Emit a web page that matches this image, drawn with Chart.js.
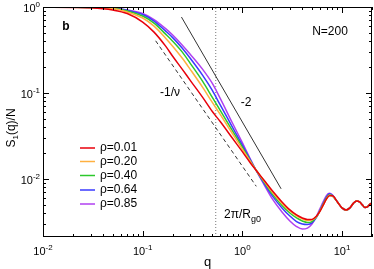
<!DOCTYPE html>
<html>
<head>
<meta charset="utf-8">
<script src="https://cdn.jsdelivr.net/npm/chart.js@4.4.1/dist/chart.umd.min.js"></script>
<style>
  html, body { margin: 0; padding: 0; background: #fff; }
  #chart { display: block; }
</style>
</head>
<body>
<canvas id="chart" width="374" height="269"></canvas>
<script>
'use strict'

// q grid shared by all curves
const qValues = [0.01, 0.02, 0.03, 0.05, 0.07, 0.1, 0.13, 0.17, 0.2, 0.25, 0.3, 0.4, 0.5, 0.6, 0.8, 1.0, 1.2, 1.4, 1.7, 2.0,
    2.5, 3.0, 3.5, 4.0, 4.5, 5.0, 5.5, 6.0, 6.5, 7.0, 7.5, 8, 9, 10, 11, 12, 13, 14, 15, 16, 17, 18, 19, 20]

const rho001 = [1.0, 0.989, 0.979, 0.922, 0.839, 0.668, 0.510, 0.350, 0.267, 0.188, 0.140, 0.0886, 0.0607, 0.0464, 0.0294, 0.0207, 0.0154, 0.01224, 0.00922, 0.00724,
    0.00538, 0.00434, 0.00379, 0.00350, 0.00336, 0.00336, 0.00364, 0.00417, 0.00497, 0.00583, 0.00633, 0.00633,
    0.00538, 0.00458, 0.00434, 0.00458, 0.00517, 0.00553, 0.00538, 0.00497, 0.00464, 0.00470, 0.00503, 0.00524]
const rho020 = [1.0, 0.9946, 0.984, 0.958, 0.874, 0.744, 0.599, 0.434, 0.350, 0.253, 0.188, 0.116, 0.0774, 0.0561, 0.0332, 0.0221, 0.0160, 0.01224, 0.00898, 0.00695,
    0.00517, 0.00422, 0.00369, 0.00341, 0.00327, 0.00332, 0.00359, 0.00417, 0.00497, 0.00583, 0.00641, 0.00633,
    0.00538, 0.00458, 0.00434, 0.00458, 0.00517, 0.00553, 0.00538, 0.00497, 0.00464, 0.00470, 0.00503, 0.00524]
const rho040 = [1.0, 0.9946, 0.987, 0.966, 0.898, 0.785, 0.650, 0.483, 0.400, 0.298, 0.221, 0.136, 0.0886, 0.0624, 0.0359, 0.0234, 0.0162, 0.01224, 0.00874, 0.00668,
    0.00490, 0.00400, 0.00350, 0.00323, 0.00310, 0.00318, 0.00355, 0.00422, 0.00510, 0.00599, 0.00650, 0.00633,
    0.00538, 0.00458, 0.00434, 0.00458, 0.00517, 0.00553, 0.00538, 0.00497, 0.00464, 0.00470, 0.00503, 0.00524]
const rho064 = [1.0, 0.9946, 0.989, 0.971, 0.915, 0.817, 0.686, 0.524, 0.440, 0.331, 0.253, 0.160, 0.107, 0.0724, 0.0395, 0.0246, 0.0167, 0.01208, 0.00839, 0.00633,
    0.00458, 0.00369, 0.00318, 0.00298, 0.00294, 0.00306, 0.00350, 0.00422, 0.00517, 0.00616, 0.00668, 0.00641,
    0.00538, 0.00458, 0.00434, 0.00458, 0.00517, 0.00553, 0.00538, 0.00497, 0.00464, 0.00470, 0.00503, 0.00524]
const rho085 = [1.0, 0.9946, 0.992, 0.973, 0.922, 0.839, 0.714, 0.560, 0.471, 0.359, 0.282, 0.188, 0.129, 0.0862, 0.0440, 0.0264, 0.0171, 0.01208, 0.00806, 0.00583,
    0.00411, 0.00323, 0.00278, 0.00260, 0.00267, 0.00298, 0.00359, 0.00446, 0.00545, 0.00641, 0.00677, 0.00650,
    0.00538, 0.00458, 0.00434, 0.00458, 0.00517, 0.00553, 0.00538, 0.00497, 0.00464, 0.00470, 0.00503, 0.00524]

const seriesLabels = ['ρ=0.01', 'ρ=0.20', 'ρ=0.40', 'ρ=0.64', 'ρ=0.85']
const seriesColors = ['#e8000b', '#ffb040', '#2cc82c', '#3a3aff', '#b040f0']

// guide lines
const slope2Q = [0.245, 2.45]
const slope2S = [0.764, 0.00764]
const slopeNuQ = [0.135, 1.38]
const slopeNuS = [0.404, 0.00817]
const rgQ = 0.541

const xMin = 0.01, xMax = 20
const yMin = 0.0021, yMax = 1

const xDecades = [-2, -1, 0, 1]
const yDecades = [-2, -1, 0]

const FONT = '"Liberation Sans", Arial, sans-serif'


document.addEventListener('DOMContentLoaded', () => {
    Draw()
})


function Points(xs, ys) {
    return xs.map((x, i) => ({ x: x, y: ys[i] }))
}

function Draw() {
    const allSeries = [rho001, rho020, rho040, rho064, rho085]

    const datasets = allSeries.map((s, i) => ({
        label: seriesLabels[i],
        data: Points(qValues, s),
        borderColor: seriesColors[i],
        borderWidth: 1.5,
        cubicInterpolationMode: 'monotone',
        pointRadius: 0
    }))

    datasets.push({
        label: 'slope2',
        data: Points(slope2Q, slope2S),
        borderColor: '#333',
        borderWidth: 1,
        pointRadius: 0
    })
    datasets.push({
        label: 'slopeNu',
        data: Points(slopeNuQ, slopeNuS),
        borderColor: '#333',
        borderWidth: 1,
        borderDash: [4, 3],
        pointRadius: 0
    })
    datasets.push({
        label: 'rg',
        data: Points([rgQ, rgQ], [yMin, yMax]),
        borderColor: '#777',
        borderWidth: 1,
        borderDash: [1, 2],
        pointRadius: 0
    })

    const ctx = document.getElementById('chart').getContext('2d')

    new Chart(ctx, {
        type: 'line',
        data: { datasets: datasets },
        options: {
            responsive: false,
            animation: false,
            devicePixelRatio: 1,
            parsing: false,
            layout: { padding: { left: 43, top: 7, right: 2, bottom: 32 } },
            plugins: {
                legend: { display: false },
                tooltip: { enabled: false }
            },
            scales: {
                x: { type: 'logarithmic', min: xMin, max: xMax, display: false },
                y: { type: 'logarithmic', min: yMin, max: yMax, display: false }
            }
        },
        plugins: [framePlugin]
    })
}


const framePlugin = {
    id: 'frame',
    afterDraw(chart) {
        const ctx = chart.ctx
        const area = chart.chartArea
        const xs = chart.scales.x
        const ys = chart.scales.y

        ctx.save()
        ctx.strokeStyle = '#000'
        ctx.lineWidth = 1
        ctx.strokeRect(area.left + 0.5, area.top + 0.5, area.right - area.left - 1, area.bottom - area.top - 1)

        // inner ticks, all four sides
        ctx.beginPath()
        for (let d = -2; d <= 1; d++) {
            for (let m = 1; m <= 9; m++) {
                const v = m * Math.pow(10, d)
                if (v < xMin || v > xMax) continue
                const px = Math.round(xs.getPixelForValue(v)) + 0.5
                const len = m === 1 ? 6 : 3
                ctx.moveTo(px, area.bottom)
                ctx.lineTo(px, area.bottom - len)
                ctx.moveTo(px, area.top)
                ctx.lineTo(px, area.top + len)
            }
        }
        for (let d = -3; d <= 0; d++) {
            for (let m = 1; m <= 9; m++) {
                const v = m * Math.pow(10, d)
                if (v < yMin || v > yMax) continue
                const py = Math.round(ys.getPixelForValue(v)) + 0.5
                const len = m === 1 ? 6 : 3
                ctx.moveTo(area.left, py)
                ctx.lineTo(area.left + len, py)
                ctx.moveTo(area.right, py)
                ctx.lineTo(area.right - len, py)
            }
        }
        ctx.stroke()

        ctx.fillStyle = '#000'
        xDecades.forEach(d => {
            PowerLabel(ctx, xs.getPixelForValue(Math.pow(10, d)), area.bottom + 18, d, 'center')
        })
        yDecades.forEach(d => {
            PowerLabel(ctx, area.left - 3, ys.getPixelForValue(Math.pow(10, d)) + 5, d, 'right')
        })

        // axis titles
        ctx.font = '13px ' + FONT
        ctx.textAlign = 'center'
        ctx.textBaseline = 'alphabetic'
        ctx.fillText('q', (area.left + area.right) / 2 + 0, area.bottom + 29)

        ctx.save()
        ctx.translate(15, 128)
        ctx.rotate(-Math.PI / 2)
        SubText(ctx, 'S', '1', '(q)/N', 0, 0, 12, 8, 3, 'center')
        ctx.restore()

        // annotations
        ctx.textAlign = 'center'
        ctx.textBaseline = 'middle'
        ctx.font = 'bold 12px ' + FONT
        ctx.fillText('b', 66, 27)
        ctx.font = '12px ' + FONT
        ctx.fillText('N=200', 330, 32)
        ctx.fillText('-1/ν', 170, 93)
        ctx.fillText('-2', 246, 103)
        ctx.textBaseline = 'alphabetic'
        SubText(ctx, '2π/R', 'g0', '', 224, 218, 12, 9, 4, 'left')

        // legend
        ctx.font = '12px ' + FONT
        ctx.textAlign = 'left'
        ctx.textBaseline = 'middle'
        const rows = [148, 161.5, 175.5, 190, 204]
        seriesLabels.forEach((lab, i) => {
            ctx.strokeStyle = seriesColors[i]
            ctx.lineWidth = 1.5
            ctx.beginPath()
            ctx.moveTo(80, rows[i])
            ctx.lineTo(95, rows[i])
            ctx.stroke()
            ctx.fillText(lab, 100, rows[i])
        })
        ctx.restore()
    }
}


function PowerLabel(ctx, x, y, exp, align) {
    ctx.textBaseline = 'alphabetic'
    ctx.textAlign = 'left'
    ctx.font = '11px ' + FONT
    const w1 = ctx.measureText('10').width
    ctx.font = '8px ' + FONT
    const expText = `${exp}`
    const w2 = ctx.measureText(expText).width
    const total = w1 + w2
    const start = align === 'center' ? x - total / 2 : x - total
    ctx.font = '11px ' + FONT
    ctx.fillText('10', start, y)
    ctx.font = '8px ' + FONT
    ctx.fillText(expText, start + w1, y - 5)
}

function SubText(ctx, main, sub, tail, x, y, size, subSize, drop, align) {
    ctx.textAlign = 'left'
    ctx.font = size + 'px ' + FONT
    const w1 = ctx.measureText(main).width
    const w3 = ctx.measureText(tail).width
    ctx.font = subSize + 'px ' + FONT
    const w2 = ctx.measureText(sub).width
    const start = align === 'center' ? x - (w1 + w2 + w3) / 2 : x
    ctx.font = size + 'px ' + FONT
    ctx.fillText(main, start, y)
    ctx.fillText(tail, start + w1 + w2, y)
    ctx.font = subSize + 'px ' + FONT
    ctx.fillText(sub, start + w1, y + drop)
}
</script>
</body>
</html>
